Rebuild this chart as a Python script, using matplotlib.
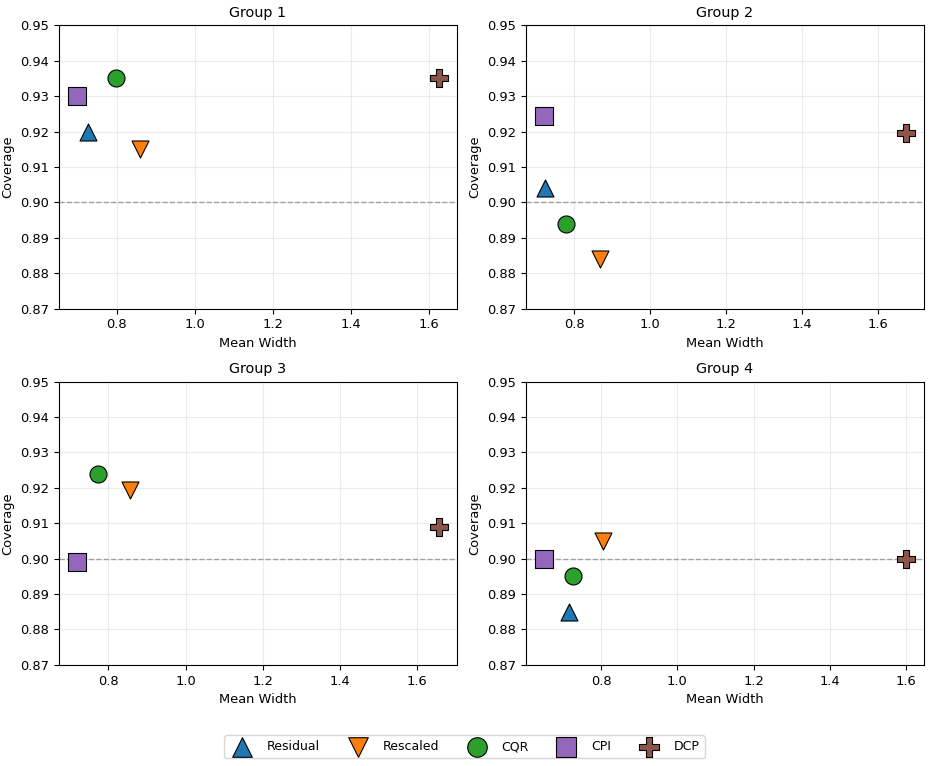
import matplotlib
matplotlib.use("Agg")
from matplotlib import pyplot as plt

METHODS = ["Residual", "Rescaled", "CQR", "CPI", "DCP"]
MARKERS = ["^", "v", "o", "s", "P"]
COLORS = ["#1f77b4", "#ff7f0e", "#2ca02c", "#9467bd", "#8c564b"]
GROUPS = ["Group 1", "Group 2", "Group 3", "Group 4"]

# mean width per method, one list per group
WIDTHS = [
    [0.726, 0.859, 0.797, 0.698, 1.626],
    [0.724, 0.868, 0.779, 0.721, 1.674],
    [0.719, 0.855, 0.774, 0.719, 1.657],
    [0.716, 0.805, 0.727, 0.650, 1.600],
]
# coverage per method, one list per group
COVERAGES = [
    [0.920, 0.915, 0.935, 0.930, 0.935],
    [0.904, 0.884, 0.894, 0.9245, 0.9195],
    [0.899, 0.9195, 0.924, 0.899, 0.909],
    [0.885, 0.905, 0.895, 0.900, 0.900],
]
TARGET = 0.90

plt.rcParams["font.size"] = 9.4
plt.rcParams["axes.titlesize"] = 10.4

fig, axes = plt.subplots(2, 2, figsize=(9.31, 7.66), dpi=100)
for g, ax in enumerate(axes.flat):
    for m, method in enumerate(METHODS):
        ax.scatter(WIDTHS[g][m], COVERAGES[g][m], marker=MARKERS[m], color=COLORS[m],
                   s=150, edgecolors="black", linewidths=0.8, label=method, zorder=3)
    ax.axhline(TARGET, color="gray", linestyle="--", linewidth=1, alpha=0.7)
    ax.set_ylim(0.87, 0.95)
    ax.grid(True, alpha=0.25)
    ax.set_title(GROUPS[g])
    ax.set_xlabel("Mean Width")
    ax.set_ylabel("Coverage")

handles, labels = axes[0, 0].get_legend_handles_labels()
fig.legend(handles, labels, loc="lower center", bbox_to_anchor=(0.499, 0.002), ncol=5,
           fontsize=9, markerscale=1.15, columnspacing=2.0, handletextpad=1.0)
fig.subplots_adjust(left=0.0634, right=0.9925, top=0.967, bottom=0.132, wspace=0.173, hspace=0.258)
fig.savefig("out.png", dpi=100)
